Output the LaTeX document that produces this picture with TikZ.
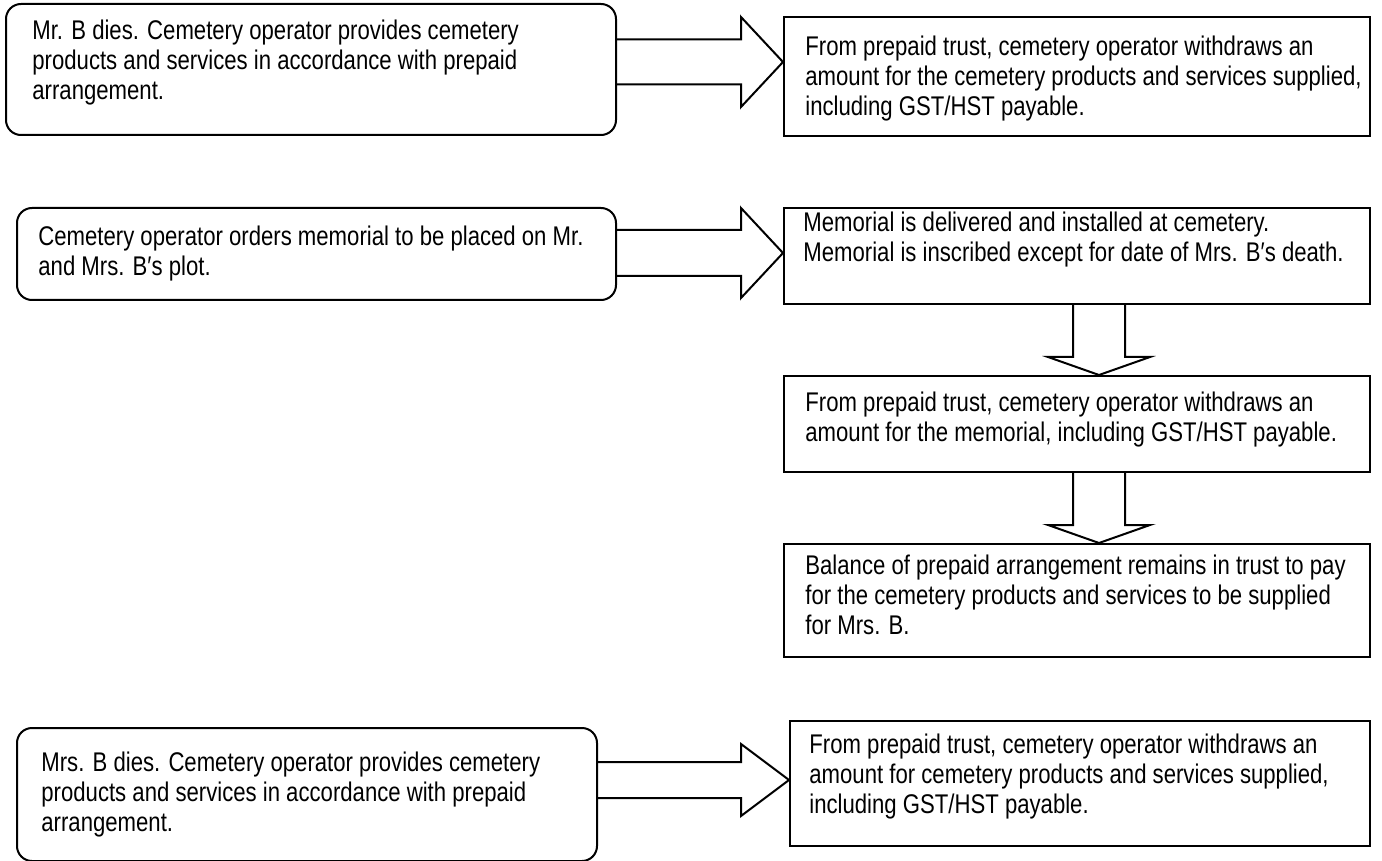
\documentclass[tikz,border=0pt]{standalone}
\usepackage{fontspec}
\setmainfont[FakeStretch=0.82]{Liberation Sans}
\usetikzlibrary{calc,fit}
\tikzset{
  boxline/.style={draw=black, line width=1pt, inner sep=0pt},
  rbox/.style={boxline, rounded corners=7.5pt},
  sbox/.style={boxline},
  txt/.style={align=left, anchor=west, inner sep=0pt, font=\fontsize{13.5pt}{15pt}\selectfont},
  blk/.style={draw=black, line width=1pt, line join=miter}
}
\newcommand\rarrow[5]{%
  \draw[blk] ($(#1)+(0,-#3)$) -- ($(#2)+(-#5,-#3)$) -- ($(#2)+(-#5,-#4)$) -- (#2)
    -- ($(#2)+(-#5,#4)$) -- ($(#2)+(-#5,#3)$) -- ($(#1)+(0,#3)$);}
\newcommand\darrow[5]{%
  \draw[blk] ($(#1)+(-#3,0)$) -- ($(#2)+(-#3,-#5)$) -- ($(#2)+(-#4,-#5)$) -- (#2)
    -- ($(#2)+(#4,-#5)$) -- ($(#2)+(#3,-#5)$) -- ($(#1)+(#3,0)$);}
\begin{document}
\begin{tikzpicture}[x=0.5pt,y=-0.5pt]
\useasboundingbox (0,0) rectangle (1382,861);
% boxes
\node[rbox, fit={(6,4) (616,135)}] (b1) {};
\node[sbox, fit={(784,17) (1370,136)}] (b2) {};
\node[rbox, fit={(17,208) (616,300)}] (b3) {};
\node[sbox, fit={(784,208) (1370,304)}] (b4) {};
\node[sbox, fit={(784,376) (1370,472)}] (b5) {};
\node[sbox, fit={(784,544) (1370,657)}] (b6) {};
\node[rbox, fit={(17,728) (597,861)}] (b7) {};
\node[sbox, fit={(790,721) (1370,846)}] (b8) {};
% texts
\node[txt] (t1) at (32,63) {Mr. B dies. Cemetery operator provides cemetery\\products and services in accordance with prepaid\\arrangement.};
\node[txt] (t2) at (805,79) {From prepaid trust, cemetery operator withdraws an\\amount for the cemetery products and services supplied,\\including GST/HST payable.};
\node[txt] (t3) at (38,254) {Cemetery operator orders memorial to be placed on Mr.\\and Mrs. B′s plot.};
\node[txt] (t4) at (803,240) {Memorial is delivered and installed at cemetery.\\Memorial is inscribed except for date of Mrs. B′s death.};
\node[txt] (t5) at (805,420) {From prepaid trust, cemetery operator withdraws an\\amount for the memorial, including GST/HST payable.};
\node[txt] (t6) at (805,595) {Balance of prepaid arrangement remains in trust to pay\\for the cemetery products and services to be supplied\\for Mrs. B.};
\node[txt] (t7) at (41,795) {Mrs. B dies. Cemetery operator provides cemetery\\products and services in accordance with prepaid\\arrangement.};
\node[txt] (t8) at (809,777) {From prepaid trust, cemetery operator withdraws an\\amount for cemetery products and services supplied,\\including GST/HST payable.};
% arrow axes
\coordinate (ax1) at (0,62);
\coordinate (ax2) at (0,253);
\coordinate (ax3) at (0,780);
\coordinate (dx) at (1099,0);
% block arrows
\rarrow{b1.east |- ax1}{b2.west |- ax1}{22.5}{45}{42}
\rarrow{b3.east |- ax2}{b4.west |- ax2}{23}{45}{42}
\rarrow{b7.east |- ax3}{b8.west |- ax3}{18}{36}{48}
\darrow{b4.south -| dx}{b5.north -| dx}{26}{51}{18}
\darrow{b5.south -| dx}{b6.north -| dx}{26}{51}{18}
\end{tikzpicture}
\end{document}
